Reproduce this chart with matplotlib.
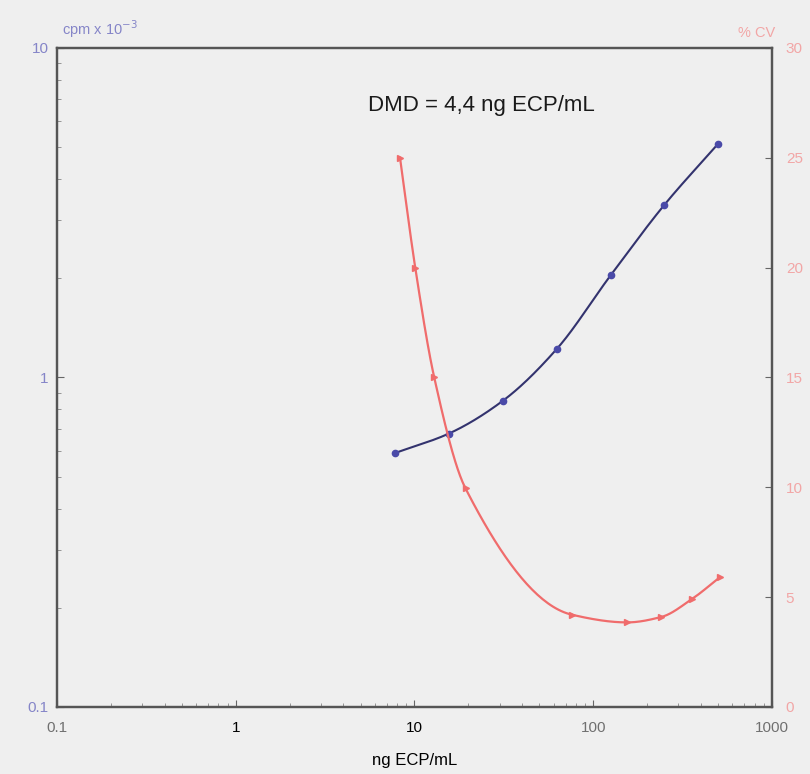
import numpy as np
import matplotlib
matplotlib.use("Agg")
import matplotlib.pyplot as plt

# standard curve (cpm x 10^-3) vs concentration
conc_std = [7.8, 15.6, 31.25, 62.5, 125, 250, 500]
cpm = [0.59, 0.676, 0.85, 1.22, 2.04, 3.34, 5.12]

# precision profile (% CV)
conc_cv = [8.3, 10.1, 12.9, 19.3, 76, 155, 241, 355, 510]
cv = [25.0, 20.0, 15.0, 9.95, 4.2, 3.85, 4.1, 4.9, 5.9]

xticks = [0.1, 1, 10, 100, 1000]
xticklabels = ["0.1", "1", "10", "100", "1000"]
xtick_colors = ["#707070", "black", "black", "#707070", "#707070"]

BG = "#efefef"
NAVY = "#33336e"
BLUE_PT = "#4a4aa8"
RED = "#f06c6c"
LAV = "#8585c8"
PINK = "#f2a6a6"


def pchip(x, y, n=40):
    # monotone cubic through the points, only for drawing the line
    x = np.asarray(x, float)
    y = np.asarray(y, float)
    h = np.diff(x)
    d = np.diff(y) / h
    m = np.zeros_like(y)
    for k in range(1, len(x) - 1):
        if d[k - 1] * d[k] > 0:
            w1 = 2 * h[k] + h[k - 1]
            w2 = h[k] + 2 * h[k - 1]
            m[k] = (w1 + w2) / (w1 / d[k - 1] + w2 / d[k])
    m[0] = d[0]
    m[-1] = d[-1]
    xs, ys = [], []
    t = np.linspace(0, 1, n, endpoint=False)
    for k in range(len(x) - 1):
        h00 = 2 * t ** 3 - 3 * t ** 2 + 1
        h10 = t ** 3 - 2 * t ** 2 + t
        h01 = -2 * t ** 3 + 3 * t ** 2
        h11 = t ** 3 - t ** 2
        xs.append(x[k] + t * h[k])
        ys.append(h00 * y[k] + h10 * h[k] * m[k] + h01 * y[k + 1] + h11 * h[k] * m[k + 1])
    xs.append([x[-1]])
    ys.append([y[-1]])
    return np.concatenate(xs), np.concatenate(ys)


fig = plt.figure(figsize=(8.1, 7.74), dpi=100, facecolor=BG)
ax = fig.add_axes([0.0704, 0.0866, 0.8826, 0.8514], facecolor=BG)
ax2 = ax.twinx()

# blue curve (log-log)
sx, sy = pchip(np.log10(conc_std), np.log10(cpm))
ax.plot(10 ** sx, 10 ** sy, color=NAVY, lw=1.5, zorder=3)
ax.plot(conc_std, cpm, "o", color=BLUE_PT, ms=4.5, zorder=4)

# red curve (log x, linear CV)
rx, ry = pchip(np.log10(conc_cv), cv)
ax2.plot(10 ** rx, ry, color=RED, lw=1.6, zorder=3)
ax2.plot(conc_cv, cv, ">", color=RED, ms=4, zorder=4)

ax.set_xscale("log")
ax.set_yscale("log")
ax.set_xlim(0.1, 1000)
ax.set_ylim(0.1, 10)
ax2.set_ylim(0, 30)

ax.set_xticks(xticks)
ax.set_xticklabels(xticklabels, fontsize=11, family="Liberation Sans")
for lbl, c in zip(ax.get_xticklabels(), xtick_colors):
    lbl.set_color(c)
ax.set_yticks([0.1, 1, 10])
ax.set_yticklabels(["0.1", "1", "10"], fontsize=11, color=LAV, family="Liberation Sans")
ax.tick_params(axis="both", which="major", direction="in", length=5, color="#666666", pad=6)
ax.tick_params(axis="both", which="minor", direction="in", length=3, color="#888888")
ax.tick_params(axis="x", pad=10)

ax2.set_yticks([0, 5, 10, 15, 20, 25, 30])
ax2.set_yticklabels(["0", "5", "10", "15", "20", "25", "30"], fontsize=11, color=PINK,
                    family="Liberation Sans")
ax2.tick_params(axis="y", direction="in", length=5, color="#666666", pad=10)

for a in (ax, ax2):
    for s in a.spines.values():
        s.set_color("#555555")
        s.set_linewidth(1.6)

ax.set_xlabel("ng ECP/mL", fontsize=12, family="Liberation Sans", labelpad=13)
fig.text(0.077, 0.962, r"cpm x 10$^{-3}$", fontsize=10.5, color=LAV,
         family="Liberation Sans", va="center")
fig.text(0.957, 0.958, "% CV", fontsize=10.5, color=PINK, family="Liberation Sans",
         ha="right", va="center")
ax.text(0.435, 0.905, "DMD = 4,4 ng ECP/mL", transform=ax.transAxes, fontsize=16,
        family="Liberation Sans", color="#1a1a1a")

plt.savefig("out.png", dpi=100, facecolor=BG)
